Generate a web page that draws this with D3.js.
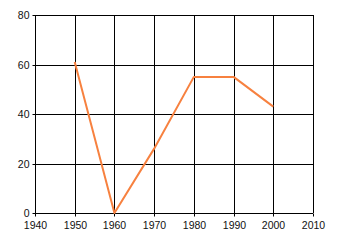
<!DOCTYPE html>
<html>
<head>
<meta charset="utf-8">
<script src="https://cdn.jsdelivr.net/npm/d3@7"></script>
<style>
  body { margin: 0; background: #fff; }
  svg { display: block; }
  text { font-family: "Liberation Sans", Arial, sans-serif; font-size: 10.5px; fill: #111; }
</style>
</head>
<body>
<div id="chart"></div>
<script>
// values
const years = [1950, 1960, 1970, 1980, 1990, 2000];
const values = [61, 0, 26, 55, 55, 43];
const xTicks = [1940, 1950, 1960, 1970, 1980, 1990, 2000, 2010];
const yTicks = [0, 20, 40, 60, 80];

const width = 340, height = 245;
const margin = { top: 15, right: 27, bottom: 32, left: 35 };

const svg = d3.select('#chart').append('svg')
    .attr('width', width)
    .attr('height', height);

const x = d3.scaleLinear().domain([1940, 2010]).range([margin.left, width - margin.right]);
const y = d3.scaleLinear().domain([0, 80]).range([height - margin.bottom, margin.top]);

// grid
svg.append('g').selectAll('line.v')
    .data(xTicks)
    .enter().append('line')
    .attr('x1', d => Math.round(x(d)) + 0.5)
    .attr('x2', d => Math.round(x(d)) + 0.5)
    .attr('y1', y(80))
    .attr('y2', y(0))
    .attr('stroke', '#000');

svg.append('g').selectAll('line.h')
    .data(yTicks)
    .enter().append('line')
    .attr('x1', x(1940))
    .attr('x2', x(2010))
    .attr('y1', d => Math.round(y(d)) + 0.5)
    .attr('y2', d => Math.round(y(d)) + 0.5)
    .attr('stroke', '#000');

// axes
const xAxis = svg.append('g')
    .attr('transform', `translate(0,${Math.round(y(0)) + 0.5})`)
    .call(d3.axisBottom(x).tickValues(xTicks).tickFormat(d3.format('d')).tickSize(3).tickPadding(5));

const yAxis = svg.append('g')
    .attr('transform', `translate(${Math.round(x(1940)) + 0.5},0)`)
    .call(d3.axisLeft(y).tickValues(yTicks).tickSize(3).tickPadding(3));

[xAxis, yAxis].forEach(a => {
    a.select('.domain').remove();
    a.selectAll('.tick line').attr('stroke', '#000').attr('transform', null);
    a.selectAll('text').style('font-family', '"Liberation Sans", Arial, sans-serif').style('font-size', '10.5px').attr('fill', '#111');
    a.attr('font-size', null).attr('font-family', null);
});
xAxis.selectAll('.tick').attr('transform', d => `translate(${Math.round(x(d)) + 0.5},0)`);
yAxis.selectAll('.tick').attr('transform', d => `translate(0,${Math.round(y(d)) + 0.5})`);

// series
const line = d3.line()
    .x((d, i) => x(years[i]))
    .y(d => y(d));

svg.append('path')
    .datum(values)
    .attr('fill', 'none')
    .attr('stroke', '#f7813f')
    .attr('stroke-width', 2)
    .attr('stroke-linejoin', 'round')
    .attr('d', line);
</script>
</body>
</html>
